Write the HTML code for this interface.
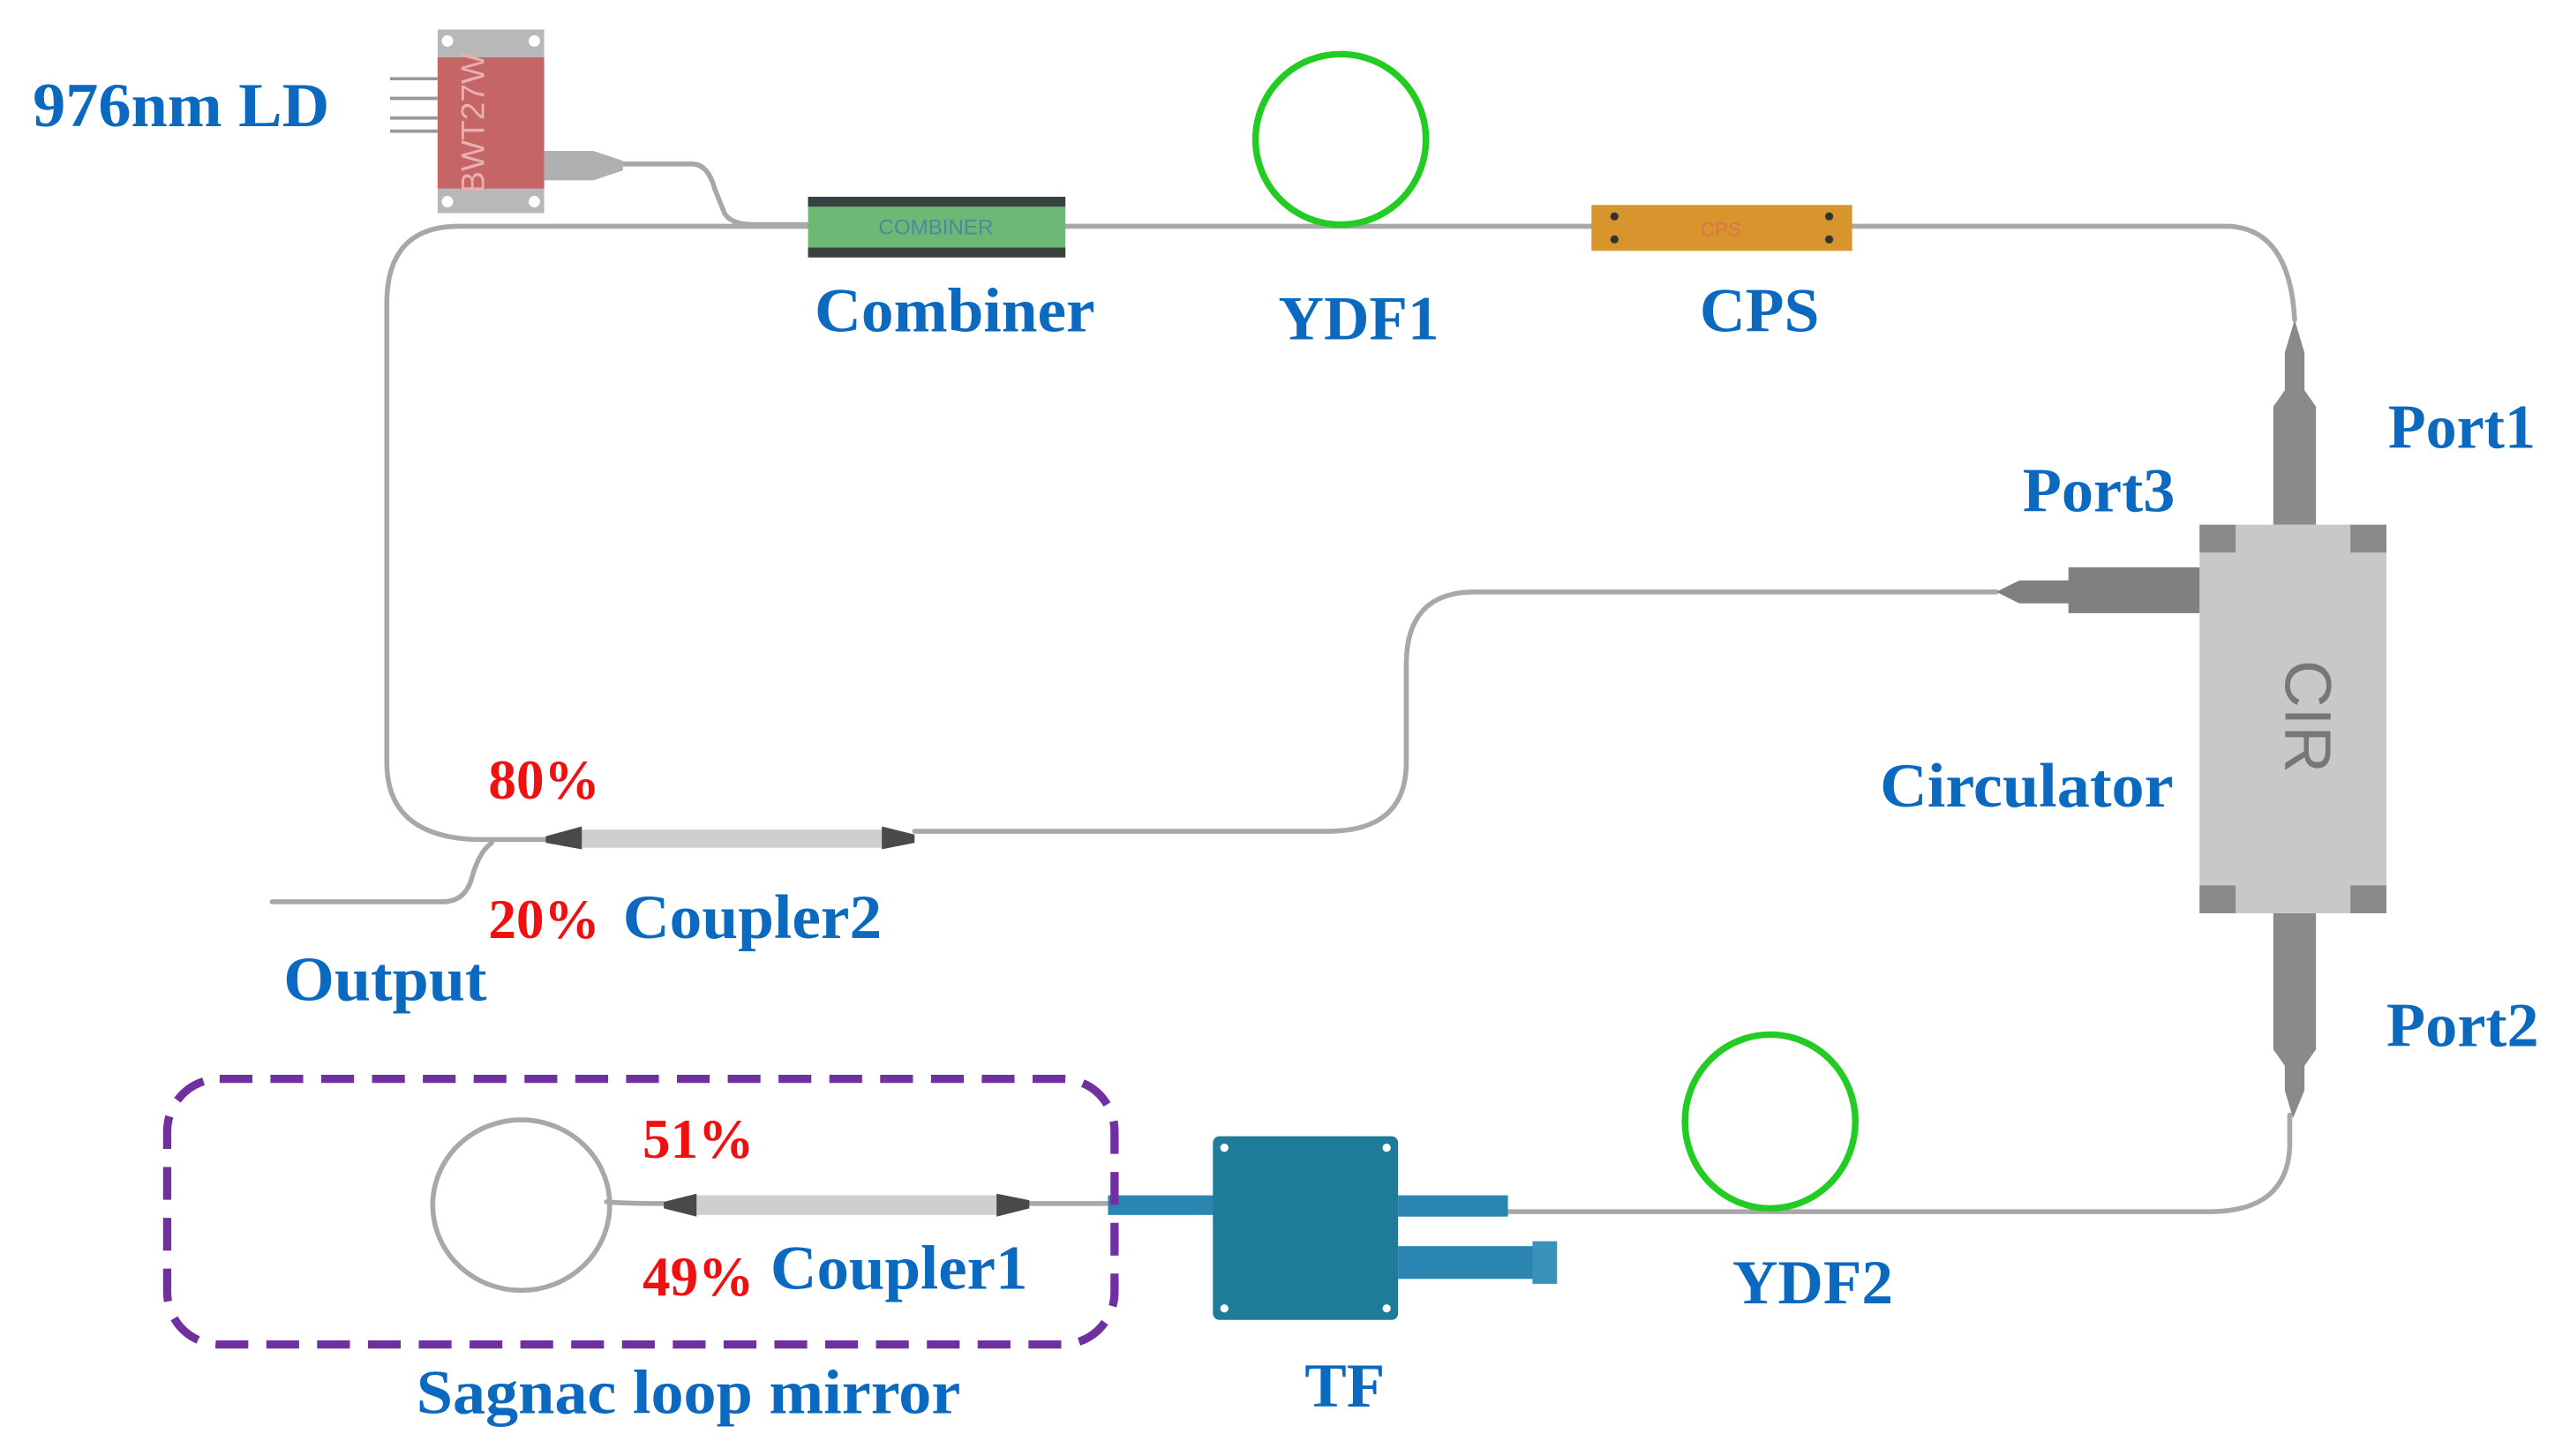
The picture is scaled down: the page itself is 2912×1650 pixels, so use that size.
<!DOCTYPE html>
<html><head><meta charset="utf-8"><style>
html,body{margin:0;padding:0;background:#fff;}
svg{display:block;}
text{font-family:"Liberation Serif",serif;font-weight:bold;}
.b{fill:#0b6abf;font-size:38px;}
.r{fill:#f01010;font-size:34px;}
</style></head><body>
<svg width="2912" height="1650" viewBox="0 0 1568 888" preserveAspectRatio="none" xmlns="http://www.w3.org/2000/svg">
<g fill="none" stroke="#a8a8a8" stroke-width="3" stroke-linecap="round">
  <path d="M493 138 H280 Q236 138 236 185 V465 Q236 510 290 512 H340"/>
  <path d="M650 138 H971 M1130 138 H1360 Q1397 140 1400 195"/>
  <path d="M380 100 H422 Q432 100 436 115 L442 130 Q446 137 460 137 H493"/>
  <path d="M1218 361 H900 Q858 361 858 405 V465 Q858 507 810 507 H558"/>
  <path d="M300 514 Q292 520 288 535 Q284 550 270 550 H166"/>
  <path d="M1397 680 V700 Q1395 738 1350 739 H920"/>
  <ellipse cx="318" cy="735" rx="54" ry="52"/>
  <path d="M370 733 Q380 734 405 734 M628 734 H680"/>
</g>
<g stroke="#999" stroke-width="2"><line x1="238" y1="48" x2="267" y2="48"/><line x1="238" y1="60" x2="267" y2="60"/><line x1="238" y1="72" x2="267" y2="72"/><line x1="238" y1="80" x2="267" y2="80"/></g>
<rect x="267" y="18" width="65" height="112" fill="#b8b8b8"/>
<rect x="267" y="35" width="65" height="80" fill="#c56565"/>
<circle cx="273" cy="25" r="3.5" fill="#fff"/><circle cx="326" cy="25" r="3.5" fill="#fff"/>
<circle cx="273" cy="123" r="3.5" fill="#fff"/><circle cx="326" cy="123" r="3.5" fill="#fff"/>
<text x="290" y="75" transform="rotate(-90 290 75)" text-anchor="middle" dominant-baseline="middle" style="font-family:'Liberation Sans',sans-serif;font-weight:normal;font-size:20px;fill:#e8b0b0">BWT27W</text>
<path d="M332 92 H362 L380 98 V104 L362 110 H332 Z" fill="#b0b0b0"/>
<rect x="493" y="120" width="157" height="37" fill="#6cb874"/>
<rect x="493" y="120" width="157" height="6" fill="#3a3f3f"/>
<rect x="493" y="151" width="157" height="6" fill="#3a3f3f"/>
<text x="571" y="143" text-anchor="middle" style="font-family:'Liberation Sans',sans-serif;font-weight:normal;font-size:13px;fill:#4a8aa0">COMBINER</text>
<ellipse cx="818" cy="85" rx="52" ry="52" fill="none" stroke="#22cc22" stroke-width="4"/>
<rect x="971" y="125" width="159" height="28" fill="#d8952d"/>
<g fill="#333"><circle cx="985" cy="132" r="2.5"/><circle cx="985" cy="146" r="2.5"/><circle cx="1116" cy="132" r="2.5"/><circle cx="1116" cy="146" r="2.5"/></g>
<text x="1050" y="144" text-anchor="middle" style="font-family:'Liberation Sans',sans-serif;font-weight:normal;font-size:12px;fill:#e07050">CPS</text>
<path d="M1400 195 L1406 215 V238 L1413 248 V320 H1387 V248 L1394 238 V215 Z" fill="#8a8a8a"/>
<rect x="1342" y="320" width="114" height="237" fill="#c8c8c8"/>
<g fill="#8a8a8a"><rect x="1342" y="320" width="22" height="17"/><rect x="1434" y="320" width="22" height="17"/><rect x="1342" y="540" width="22" height="17"/><rect x="1434" y="540" width="22" height="17"/></g>
<text x="1405" y="437" transform="rotate(90 1405 437)" text-anchor="middle" dominant-baseline="middle" style="font-family:'Liberation Sans',sans-serif;font-weight:normal;font-size:40px;fill:#777">CIR</text>
<path d="M1218 361 L1232 354 H1262 V346 H1342 V374 H1262 V368 H1232 Z" fill="#808080"/>
<path d="M1387 557 H1413 V640 L1406 650 V665 L1399 682 L1394 665 V650 L1387 640 Z" fill="#8a8a8a"/>
<ellipse cx="1080" cy="684" rx="52" ry="53" fill="none" stroke="#22cc22" stroke-width="4"/>
<rect x="355" y="506" width="183" height="11" fill="#cfcfcf"/>
<path d="M333 510 L355 504 V518 L333 514 Z M538 504 L558 509 V514 L538 518 Z" fill="#4a4a4a"/>
<rect x="425" y="729" width="183" height="12" fill="#cfcfcf"/>
<path d="M405 733 L425 728 V742 L405 737 Z M608 728 L628 732 V737 L608 742 Z" fill="#4a4a4a"/>
<rect x="676" y="729" width="66" height="12" fill="#2a86b0"/>
<rect x="853" y="729" width="67" height="13" fill="#2a86b0"/>
<rect x="853" y="760" width="90" height="20" fill="#2a86b0"/>
<rect x="935" y="757" width="15" height="26" fill="#3a92ba"/>
<rect x="740" y="693" width="113" height="112" rx="4" fill="#1f7b9a"/>
<g fill="#fff"><circle cx="747" cy="700" r="2.5"/><circle cx="846" cy="700" r="2.5"/><circle cx="747" cy="798" r="2.5"/><circle cx="846" cy="798" r="2.5"/></g>
<rect x="102" y="658" width="578" height="162" rx="32" fill="none" stroke="#7030a0" stroke-width="5" stroke-dasharray="20 11"/>
<text class="b" x="20" y="77" textLength="181" lengthAdjust="spacingAndGlyphs">976nm LD</text>
<text class="b" x="497" y="202" textLength="171" lengthAdjust="spacingAndGlyphs">Combiner</text>
<text class="b" x="780" y="207" textLength="98" lengthAdjust="spacingAndGlyphs">YDF1</text>
<text class="b" x="1037" y="202" textLength="73" lengthAdjust="spacingAndGlyphs">CPS</text>
<text class="b" x="1457" y="273" textLength="90" lengthAdjust="spacingAndGlyphs">Port1</text>
<text class="b" x="1234" y="312" textLength="93" lengthAdjust="spacingAndGlyphs">Port3</text>
<text class="b" x="1147" y="492" textLength="179" lengthAdjust="spacingAndGlyphs">Circulator</text>
<text class="b" x="1456" y="638" textLength="93" lengthAdjust="spacingAndGlyphs">Port2</text>
<text class="r" x="298" y="487" textLength="68" lengthAdjust="spacingAndGlyphs">80%</text>
<text class="r" x="298" y="572" textLength="68" lengthAdjust="spacingAndGlyphs">20%</text>
<text class="b" x="380" y="572" textLength="158" lengthAdjust="spacingAndGlyphs">Coupler2</text>
<text class="b" x="173" y="610" textLength="124" lengthAdjust="spacingAndGlyphs">Output</text>
<text class="r" x="392" y="706" textLength="68" lengthAdjust="spacingAndGlyphs">51%</text>
<text class="r" x="392" y="790" textLength="68" lengthAdjust="spacingAndGlyphs">49%</text>
<text class="b" x="470" y="786" textLength="157" lengthAdjust="spacingAndGlyphs">Coupler1</text>
<text class="b" x="254" y="862" textLength="332" lengthAdjust="spacingAndGlyphs">Sagnac loop mirror</text>
<text class="b" x="796" y="858" textLength="49" lengthAdjust="spacingAndGlyphs">TF</text>
<text class="b" x="1057" y="795" textLength="98" lengthAdjust="spacingAndGlyphs">YDF2</text>
</svg>
</body></html>
